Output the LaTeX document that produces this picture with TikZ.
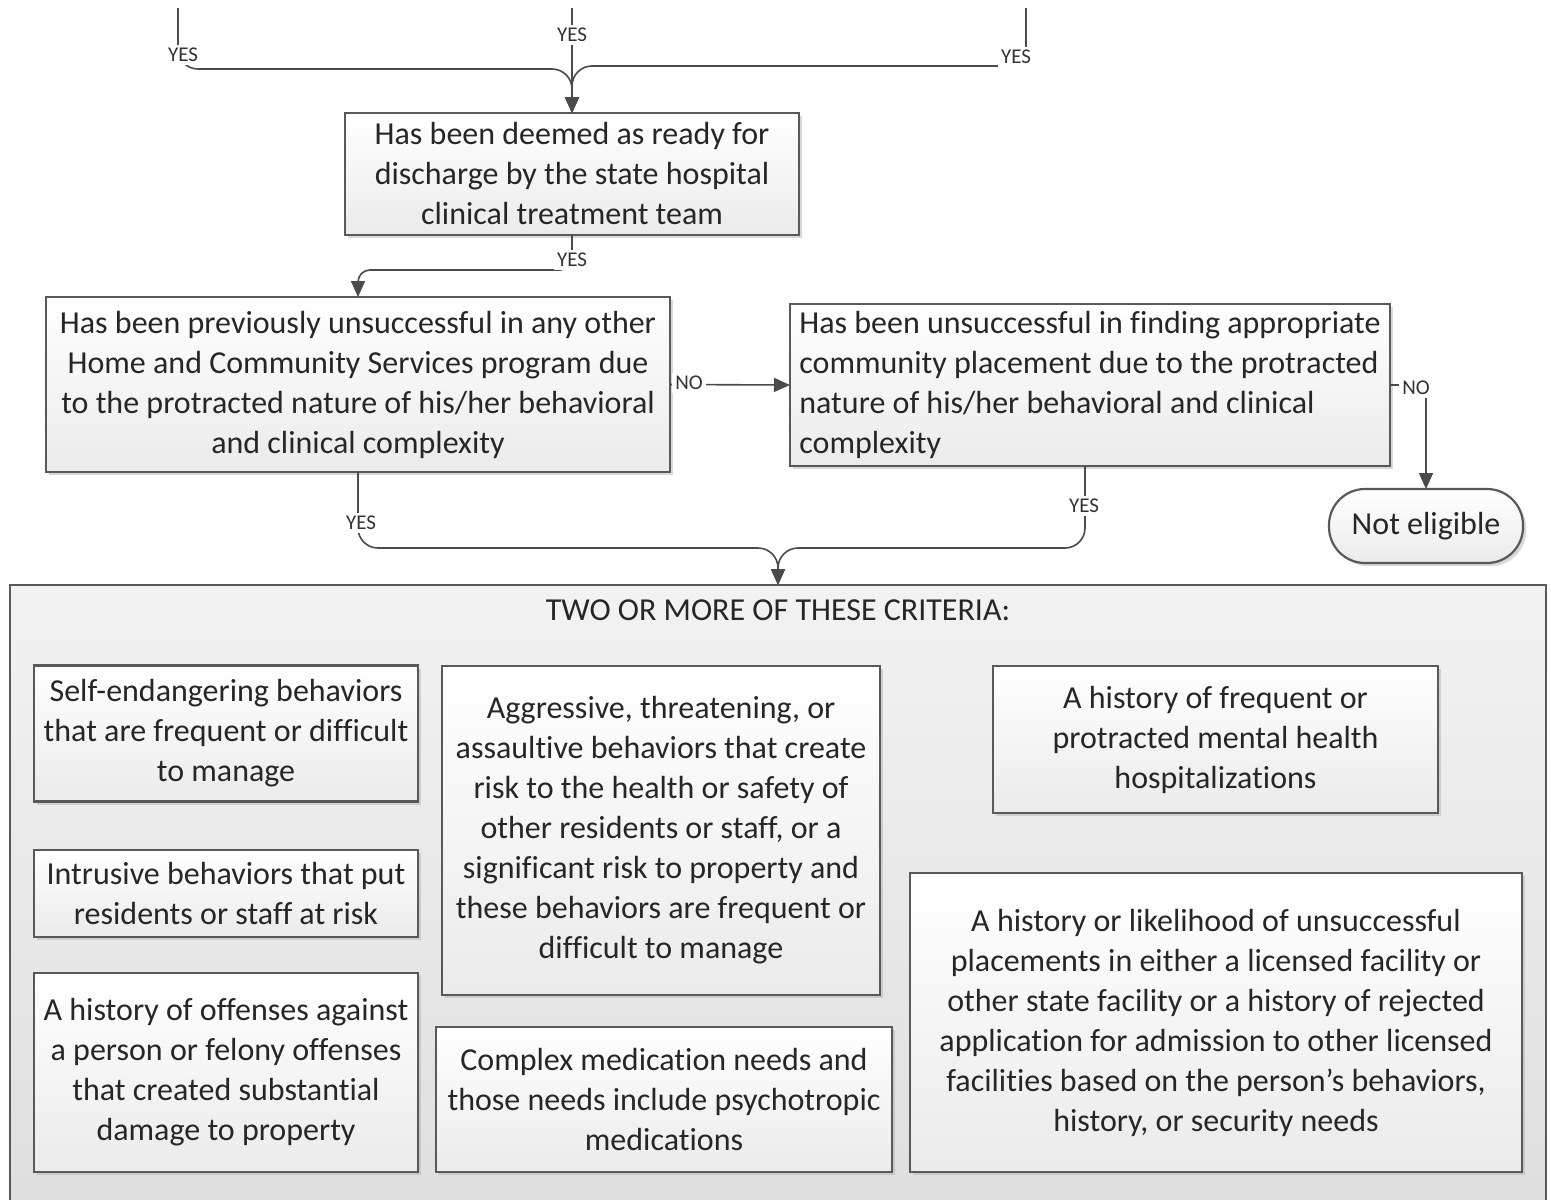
\documentclass[tikz,border=0pt]{standalone}
\usepackage{fontspec}
\setmainfont{Carlito}[Ligatures=NoCommon]
\usetikzlibrary{arrows.meta,shadows}
\definecolor{edge}{HTML}{595959}
\definecolor{lnc}{HTML}{4A4A4A}
\begin{document}
\begin{tikzpicture}[x=0.5pt,y=-0.5pt,
  sz/.style 2 args={minimum width=#1*0.5pt, minimum height=#2*0.5pt},
  box/.style={draw=edge, line width=1.1pt, top color=white, bottom color=black!8,
    inner sep=0pt, outer sep=0pt, align=center, font=\fontsize{16}{20}\selectfont, text=black!85,
    drop shadow={shadow xshift=1.6pt, shadow yshift=-1.6pt, fill=black!30, opacity=0.5}},
  container/.style={draw=edge, line width=1.1pt, top color=black!5, bottom color=black!13,
    inner sep=0pt, outer sep=0pt},
  conn/.style={draw=lnc, line width=0.8pt, rounded corners=10pt, -{Triangle[length=8pt,width=7pt]}},
  lab/.style={fill=white, inner sep=1.5pt, font=\fontsize{10.5}{11}\selectfont, text=black!80}
]
\useasboundingbox (0,0) rectangle (1551,1199);
\clip (0,0) rectangle (1551,1199);
\fill[white] (0,0) rectangle (1551,1199);

% container
\node[container, sz={1536}{640}] (crit) at (778,905) {};
\node[font=\fontsize{16}{20}\selectfont, text=black!85] (crittitle) at (778,610) {TWO OR MORE OF THESE CRITERIA:};

% main boxes
\node[box, sz={454}{122}] (discharge) at (572,174) {Has been deemed as ready for\\discharge by the state hospital\\clinical treatment team};
\node[box, sz={624}{175}] (prev) at (358,384.5) {Has been previously unsuccessful in any other\\Home and Community Services program due\\to the protracted nature of his/her behavioral\\and clinical complexity};
\node[box, sz={600}{162}, align=left] (find) at (1090,385) {Has been unsuccessful in finding appropriate\\community placement due to the protracted\\nature of his/her behavioral and clinical\\complexity};
\node[box, sz={194}{74}, rounded corners=18pt] (ne) at (1426,526) {Not eligible};

% criteria boxes
\node[box, sz={384}{136}] (self) at (226,733.5) {Self-endangering behaviors\\that are frequent or difficult\\to manage};
\node[box, sz={384}{87}] (intr) at (226,893.5) {Intrusive behaviors that put\\residents or staff at risk};
\node[box, sz={384}{199}] (offen) at (226,1072.5) {A history of offenses against\\a person or felony offenses\\that created substantial\\damage to property};
\node[box, sz={438}{329}] (aggr) at (661,830.5) {Aggressive, threatening, or\\assaultive behaviors that create\\risk to the health or safety of\\other residents or staff, or a\\significant risk to property and\\these behaviors are frequent or\\difficult to manage};
\node[box, sz={456}{145}] (med) at (664,1099.5) {Complex medication needs and\\those needs include psychotropic\\medications};
\node[box, sz={445}{147}] (freq) at (1215.5,739.5) {A history of frequent or\\protracted mental health\\hospitalizations};
\node[box, sz={612}{299}] (likely) at (1216,1022.5) {A history or likelihood of unsuccessful\\placements in either a licensed facility or\\other state facility or a history of rejected\\application for admission to other licensed\\facilities based on the person’s behaviors,\\history, or security needs};

% incoming connectors
\coordinate (inL) at (178,8);
\coordinate (inM) at (572,8);
\coordinate (inR) at (1026,8);
\draw[conn] (inL) -- (178,69) -- (572,69) -- (discharge.north);
\draw[conn] (inR) -- (1026,66) -- (572,66) -- (discharge.north);
\draw[conn] (inM) -- (discharge.north);
\node[lab] (yL) at (183,55) {YES};
\node[lab] (yM) at (572,35) {YES};
\node[lab] (yR) at (1016,57) {YES};

% discharge -> prev
\draw[conn, rounded corners=6pt] (discharge.south) -- (572,270) -- (358,270) -- (prev.north);
\node[lab] (y2) at (572,260) {YES};

% prev -> find
\draw[conn] (prev.east) -- (find.west);
\node[lab] (n1) at (689,383) {NO};

% find -> not eligible
\draw[conn, rounded corners=0pt] (find.east) -| (ne.north);
\node[lab] (n2) at (1416,388) {NO};

% to criteria
\draw[conn] (prev.south) -- (358,548) -- (778,548) -- (crit.north);
\draw[conn] ([xshift=-2.5pt]find.south) -- (1085,548) -- (778,548) -- (crit.north);
\node[lab] (y3) at (361,523) {YES};
\node[lab] (y4) at (1084,506) {YES};
\end{tikzpicture}
\end{document}
